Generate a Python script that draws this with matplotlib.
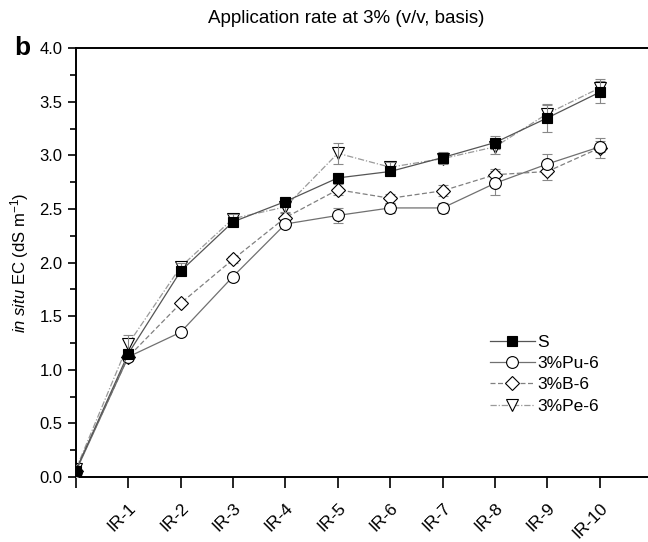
import numpy as np
import matplotlib
matplotlib.use("Agg")
import matplotlib.pyplot as plt
from matplotlib.ticker import MultipleLocator

plt.rcParams['font.family'] = ["Liberation Sans", "DejaVu Sans"]
plt.rcParams['mathtext.fontset'] = "custom"
plt.rcParams['mathtext.rm'] = "Liberation Sans"
plt.rcParams['mathtext.it'] = "Liberation Sans:italic"

# irrigation events (position 0 = start, no label)
events = ["", "IR-1", "IR-2", "IR-3", "IR-4", "IR-5", "IR-6", "IR-7", "IR-8", "IR-9", "IR-10"]

ec_s = [0.06, 1.15, 1.92, 2.38, 2.57, 2.79, 2.85, 2.98, 3.12, 3.35, 3.59]
ec_pu6 = [0.05, 1.12, 1.35, 1.87, 2.36, 2.44, 2.51, 2.51, 2.74, 2.92, 3.08]
ec_b6 = [0.06, 1.12, 1.62, 2.03, 2.42, 2.68, 2.60, 2.67, 2.82, 2.85, 3.07]
ec_pe6 = [0.07, 1.24, 1.96, 2.41, 2.52, 3.02, 2.89, 2.97, 3.08, 3.39, 3.63]

err_s = [0.01, 0.04, 0.04, 0.04, 0.04, 0.05, 0.04, 0.05, 0.06, 0.13, 0.10]
err_pu6 = [0.01, 0.04, 0.02, 0.03, 0.03, 0.07, 0.05, 0.05, 0.11, 0.09, 0.05]
err_b6 = [0.01, 0.03, 0.02, 0.03, 0.04, 0.05, 0.04, 0.05, 0.05, 0.08, 0.09]
err_pe6 = [0.02, 0.08, 0.04, 0.04, 0.05, 0.10, 0.05, 0.05, 0.07, 0.08, 0.08]

x = np.arange(len(events))

fig = plt.figure(figsize=(6.48, 5.42), dpi=100)
ax = fig.add_axes([0.117, 0.12, 0.883, 0.791])

series = [
    ("S", ec_s, err_s, "s", "black", "-", "#555555", 7),
    ("3%Pu-6", ec_pu6, err_pu6, "o", "white", "-", "#707070", 8.5),
    ("3%B-6", ec_b6, err_b6, "D", "white", (0, (4, 2)), "#808080", 7),
    ("3%Pe-6", ec_pe6, err_pe6, "v", "white", (0, (5, 1.5, 1, 1.5)), "#9a9a9a", 8.5),
]

for i, (name, y, e, mk, fc, ls, lc, ms) in enumerate(series):
    ax.errorbar(x, y, yerr=e, fmt="none", ecolor="#888888", elinewidth=0.8,
                capsize=3.5, capthick=0.8, zorder=2 + i)
    ax.plot(x, y, linestyle=ls, color=lc, lw=0.9, marker=mk, markersize=ms,
            markerfacecolor=fc, markeredgecolor="black", markeredgewidth=0.8,
            label=name, zorder=6 - i)

ax.set_xlim(0, 10.92)
ax.set_ylim(0, 4.0)
ax.set_xticks(x)
ax.set_xticklabels(events, rotation=45, ha="right", va="top",
                   rotation_mode="anchor", fontsize=12.5)
ax.yaxis.set_major_locator(MultipleLocator(0.5))
ax.yaxis.set_minor_locator(MultipleLocator(0.25))
ax.tick_params(axis="y", which="major", direction="out", length=6, width=1.2, labelsize=12)
ax.tick_params(axis="y", which="minor", direction="out", length=4, width=1.2)
ax.tick_params(axis="x", which="major", direction="out", length=8, width=1.2, pad=9)
for sp in ax.spines.values():
    sp.set_linewidth(1.4)
ax.spines["right"].set_visible(False)

ax.set_ylabel(r"$\mathit{in\ situ}$ EC (dS m$^{-1}$)", fontsize=12, labelpad=6)

fig.text(0.534, 0.965, "Application rate at 3% (v/v, basis)", ha="center", va="center", fontsize=13.5)
fig.text(0.035, 0.912, "b", ha="center", va="center", fontsize=19, fontweight="bold")

ax.legend(loc="upper left", bbox_to_anchor=(0.745, 0.395), bbox_transform=fig.transFigure,
          frameon=False, fontsize=12.5, handlelength=2.6, handletextpad=0.15,
          labelspacing=0.35, borderaxespad=0)

fig.savefig("out.png", dpi=100)
